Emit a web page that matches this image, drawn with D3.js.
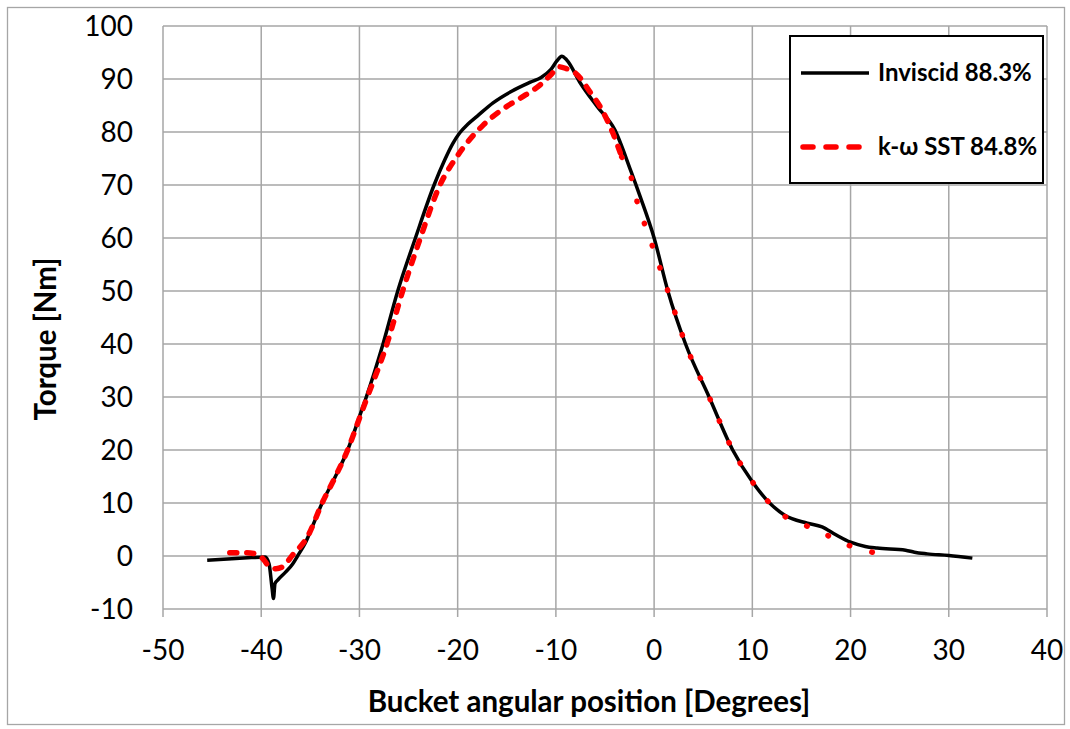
<!DOCTYPE html>
<html><head><meta charset="utf-8">
<script src="https://cdn.jsdelivr.net/npm/d3@7/dist/d3.min.js"></script>
<style>body{margin:0;background:#fff}svg{display:block}text{font-family:Lato,"Open Sans",sans-serif}</style>
</head><body>
<svg id="c" width="1070" height="729"></svg>
<script>
const xTicks = [-50,-40,-30,-20,-10,0,10,20,30,40];
const yTicks = [-10,0,10,20,30,40,50,60,70,80,90,100];
const seriesNames = ["Inviscid 88.3%", "k-\u03c9 SST 84.8%"];
const xTitle = "Bucket angular position [Degrees]";
const yTitle = "Torque [Nm]";

const invX = [-45.5,-43,-41,-39.6,-39.2,-38.9,-38.75,-38.6,-38.3,-37.5,-36.8,-36.3,-35.5,-34.8,-33.8,-32.5,-31.2,-30,-29.3,-27.6,-26.1,-24.3,-22.4,-21.3,-20.5,-19.8,-19,-18,-16.4,-14.5,-12.6,-11.5,-10.5,-9.9,-9.4,-8.9,-7.5,-5.8,-4.0,-2.4,-1.4,0,1.4,3.2,5.6,8.0,10,11.5,13.3,15.6,17.1,18.5,20,21.5,22.7,25.6,26.5,27.8,30,32.4];
const invY = [-0.8,-0.5,-0.3,-0.2,-1.5,-6,-8,-5.2,-4.5,-3,-1.5,0,2.5,5.5,10,14.8,20,26.3,30,40,50,60,70,74.8,77.8,79.8,81.4,83,85.5,87.7,89.4,90.3,91.8,93.4,94.3,93.6,89.2,84.8,80.4,72.8,67.7,60,50,40,30,20,14,10.5,7.7,6.2,5.5,4,2.6,1.8,1.5,1.1,0.7,0.4,0.1,-0.4];

const sstX = [-43.2,-41.5,-40.4,-39.7,-39.2,-38.5,-37.8,-36.8,-35.3,-33.8,-32.5,-31.2,-30,-29.3,-27.2,-25.6,-23.8,-21.8,-20.1,-18.9,-17.4,-15.5,-13.6,-11.6,-10.5,-9.7,-9.0,-8.0,-6.5,-5.2,-4.2,-3.3,-2.2,-1.7,-0.9,-0.1,1.4,3.2,5.6,8.0,10,11.5,13.3,15.5,17.1,18.5,20.3,22,23.8,24.2];
const sstY = [0.6,0.6,0.3,-0.8,-2.0,-2.4,-2.0,0.2,3.6,10,14.8,20,26,29.5,40,50,60,70,75.3,78.3,81.3,84.2,86.4,88.9,90.8,92.3,92.0,91.1,87.5,83.8,79.8,75.3,70.6,66.6,62.3,58.1,50,40,30,20,14,10.5,7.5,5.7,4.5,3,1.7,0.8,0.2,0.1];

const svg = d3.select("#c");
const L=163, R=1047, T=26, B=609;
const x = d3.scaleLinear().domain([-50,40]).range([L,R]);
const y = d3.scaleLinear().domain([-10,100]).range([B,T]);

svg.append("rect").attr("x",7.5).attr("y",7.5).attr("width",1057).attr("height",717)
  .attr("fill","none").attr("stroke","#a6a6a6").attr("stroke-width",1.3);

const grid = svg.append("g");
grid.selectAll("line.h").data(yTicks).join("line")
  .attr("x1",L).attr("x2",R).attr("y1",d=>y(d)).attr("y2",d=>y(d))
  .attr("stroke","#a6a6a6").attr("stroke-width",1.5);
grid.selectAll("line.v").data(xTicks).join("line")
  .attr("y1",T).attr("y2",B+8).attr("x1",d=>x(d)).attr("x2",d=>x(d))
  .attr("stroke","#a6a6a6").attr("stroke-width",1.5);

svg.append("g").selectAll("text").data(yTicks).join("text")
  .attr("x",133).attr("y",d=>y(d)).attr("dy","0.35em").attr("text-anchor","end")
  .attr("font-size",28).attr("fill","#000").text(d=>d);
svg.append("g").selectAll("text").data(xTicks).join("text")
  .attr("x",d=>x(d)).attr("y",660).attr("text-anchor","middle")
  .attr("font-size",28).attr("fill","#000").text(d=>d);

svg.append("text").attr("x",589).attr("y",712).attr("text-anchor","middle")
  .attr("font-size",29.5).attr("font-weight","bold").text(xTitle);
svg.append("text").attr("transform","translate(56,339) rotate(-90)").attr("text-anchor","middle")
  .attr("font-size",29.5).attr("font-weight","bold").text(yTitle);

const line = d3.line().x(d=>x(d[0])).y(d=>y(d[1])).curve(d3.curveMonotoneX);
const inv = invX.map((v,i)=>[v,invY[i]]);
const sst = sstX.map((v,i)=>[v,sstY[i]]);
const sstA = sst.filter(d=>d[0]<=-2.8);
const sstB = sst.filter(d=>d[0]>=-3.3);

svg.append("path").attr("d",line(inv)).attr("fill","none").attr("stroke","#000")
  .attr("stroke-width",3.5).attr("stroke-linejoin","round");
svg.append("path").attr("d",line(sstA)).attr("fill","none").attr("stroke","#ff0000")
  .attr("stroke-width",5.5).attr("stroke-linecap","round").attr("stroke-dasharray","7 10");
svg.append("path").attr("d",line(sstB)).attr("fill","none").attr("stroke","#ff0000")
  .attr("stroke-width",5.5).attr("stroke-linecap","round").attr("stroke-dasharray","0.5 23");

const lg = svg.append("g");
lg.append("rect").attr("x",790).attr("y",36).attr("width",253).attr("height",147)
  .attr("fill","#fff").attr("stroke","#000").attr("stroke-width",2);
lg.append("line").attr("x1",801).attr("x2",869).attr("y1",73).attr("y2",73)
  .attr("stroke","#000").attr("stroke-width",3.5);
lg.append("line").attr("x1",803).attr("x2",869).attr("y1",147).attr("y2",147)
  .attr("stroke","#ff0000").attr("stroke-width",5.5).attr("stroke-linecap","round").attr("stroke-dasharray","10 13");
lg.selectAll("text").data(seriesNames).join("text")
  .attr("x",878).attr("y",(d,i)=>i?147:73).attr("dy","0.35em")
  .attr("font-size",24).attr("font-weight","bold").text(d=>d);
</script>
</body></html>
